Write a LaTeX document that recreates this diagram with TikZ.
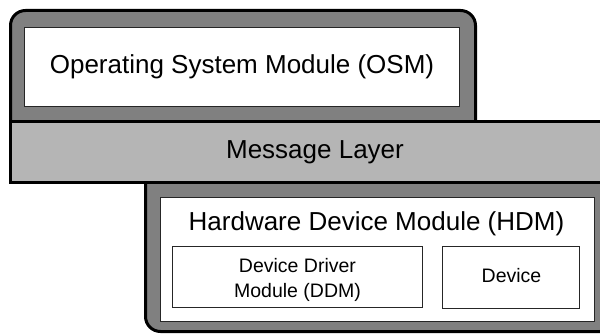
\documentclass[tikz,border=0pt]{standalone}
\usepackage{fontspec}
\setmainfont{Liberation Sans}
\begin{document}
\begin{tikzpicture}[x=1pt,y=-1pt,
  outerbox/.style={draw=black, line width=3pt, fill=gray50, rounded corners=15pt, inner sep=0pt},
  layerbox/.style={draw=black, line width=3pt, fill=gray70, inner sep=0pt},
  whitebox/.style={draw=black!85, line width=1.3pt, fill=white, inner sep=0pt},
  bigtext/.style={font=\fontsize{26}{31}\selectfont, inner sep=0pt},
  smalltext/.style={font=\fontsize{19.5}{25}\selectfont, align=center, inner sep=0pt}
]
\definecolor{gray50}{RGB}{128,128,128}
\definecolor{gray70}{RGB}{181,181,181}
\useasboundingbox (0,0) rectangle (600,334);
\clip (0,0) rectangle (600,334);
% outer modules
\node[outerbox, minimum width=469.5pt, minimum height=161.5pt] (hdmouter) at (380.25,250.75) {};
\node[outerbox, minimum width=465pt, minimum height=129.5pt] (osmouter) at (243,75.25) {};
% message layer
\node[layerbox, minimum width=609pt, minimum height=61pt, bigtext] (msg) at (315,152) {Message Layer};
% OSM
\node[whitebox, minimum width=435pt, minimum height=79pt, bigtext] (osm) at (242,67) {Operating System Module (OSM)};
% HDM
\node[whitebox, minimum width=434pt, minimum height=124pt] (hdm) at (377.5,259.5) {};
\node[bigtext] (hdmlabel) at (376.5,224) {Hardware Device Module (HDM)};
\node[whitebox, minimum width=250pt, minimum height=61pt] (ddm) at (297.5,277) {};
\node[smalltext] (ddmlabel) at (297.5,279.5) {Device Driver\\Module (DDM)};
\node[whitebox, minimum width=137pt, minimum height=62pt] (dev) at (511,277.5) {};
\node[smalltext] (devlabel) at (511.5,275.5) {Device};
\end{tikzpicture}
\end{document}
